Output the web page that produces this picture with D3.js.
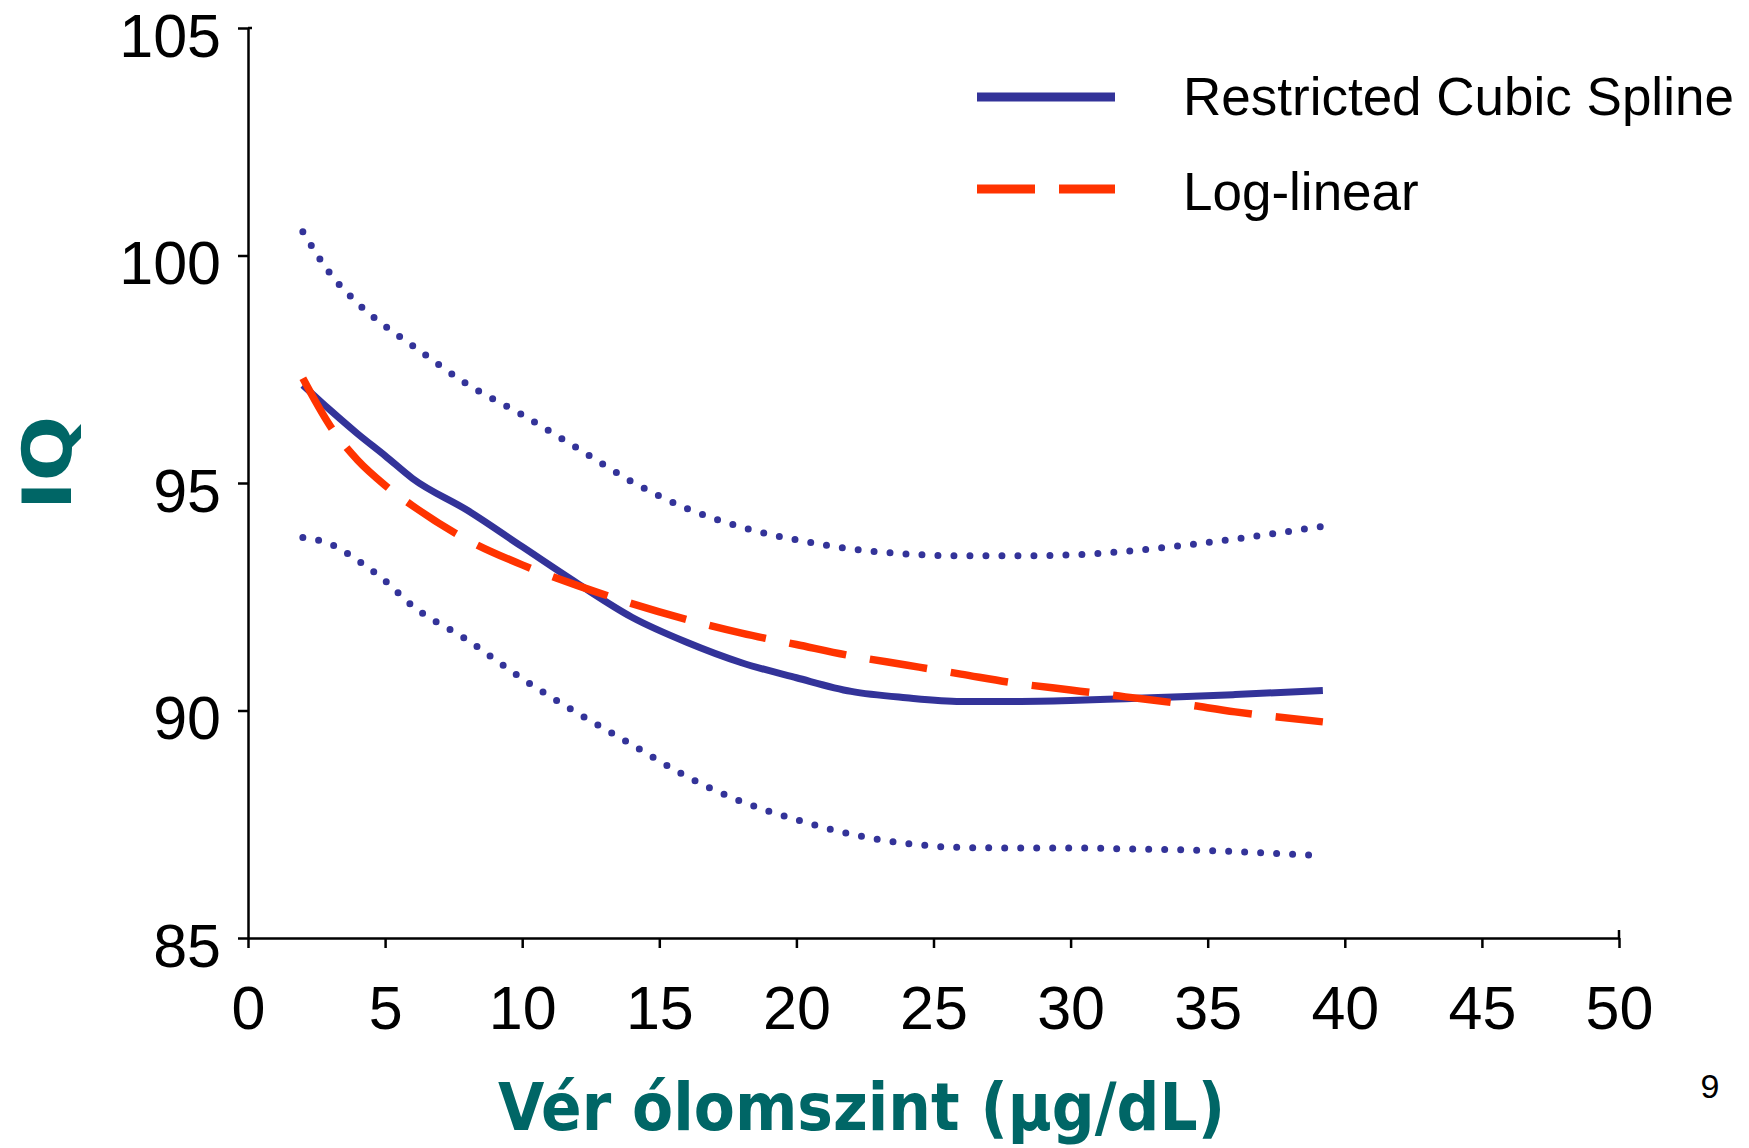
<!DOCTYPE html>
<html>
<head>
<meta charset="utf-8">
<script src="https://cdn.jsdelivr.net/npm/d3@7"></script>
<style>
  body { margin: 0; background: #fff; }
  svg { display: block; font-family: "Liberation Sans", Arial, sans-serif; }
</style>
</head>
<body>
<svg id="chart"></svg>
<script>
// 1: DATA
const leadLevels = [2, 3, 4, 5, 6, 8, 10, 12, 14, 16, 18, 20, 22, 24, 26, 28, 30, 32, 34, 36, 39.2];
const splineIQ = [97.15, 96.6, 96.08, 95.6, 95.1, 94.4, 93.6, 92.8, 92.05, 91.5, 91.05, 90.72, 90.42, 90.28, 90.2, 90.2, 90.22, 90.26, 90.3, 90.35, 90.44];
const logLinearIQ = [97.3, 96.25, 95.5, 94.95, 94.5, 93.75, 93.2, 92.75, 92.35, 92.0, 91.7, 91.45, 91.2, 91.0, 90.8, 90.6, 90.45, 90.3, 90.15, 89.97, 89.75];
const upperCI = [100.52, 99.6, 98.95, 98.45, 98.02, 97.17, 96.5, 95.77, 95.03, 94.44, 94.03, 93.75, 93.55, 93.44, 93.4, 93.4, 93.42, 93.5, 93.62, 93.77, 94.05];
const lowerLevels = [2, 3, 4, 5, 6, 8, 10, 12, 14, 16, 18, 20, 22, 24, 26, 28, 30, 32, 34, 36, 38.8];
const lowerCI = [93.8, 93.66, 93.3, 92.85, 92.3, 91.55, 90.7, 89.95, 89.25, 88.55, 88.0, 87.6, 87.28, 87.08, 86.99, 86.98, 86.98, 86.96, 86.94, 86.9, 86.82];

const xTicks = [0, 5, 10, 15, 20, 25, 30, 35, 40, 45, 50];
const yTicks = [85, 90, 95, 100, 105];
const legendLabels = ["Restricted Cubic Spline", "Log-linear"];

// 2: SIZES
const margin = { top: 28, right: 131, bottom: 210, left: 248 };
const width = 1371;
const height = 910;

const blue = "#333399";
const red = "#ff3300";
const teal = "#006666";

const svgRoot = d3.select("#chart")
    .attr("width", 1749)
    .attr("height", 1148);

const svg = svgRoot.append("g")
    .attr("transform", `translate(${margin.left},${margin.top})`);

// 3: SCALES
const xScale = d3.scaleLinear().domain([0, 50]).range([0, width]);
const yScale = d3.scaleLinear().domain([85, 105]).range([height, 0]);

// 4: AXES
const yAxis = svg.append("g")
    .call(d3.axisLeft(yScale).tickValues(yTicks).tickSize(10).tickSizeOuter(0).tickPadding(17));
yAxis.selectAll("text").attr("dy", "0.46em").style("font-size", "61px").attr("fill", "#000");

const xAxis = svg.append("g")
    .attr("transform", `translate(0,${height})`)
    .call(d3.axisBottom(xScale).tickValues(xTicks).tickSize(10).tickSizeOuter(0).tickPadding(38));
xAxis.selectAll("text").style("font-size", "61px").attr("fill", "#000");

[yAxis, xAxis].forEach(a => {
    a.select(".domain").attr("stroke", "#000").attr("stroke-width", 2.5);
    a.selectAll(".tick line").attr("stroke", "#000").attr("stroke-width", 2.5);
});

// small end caps crossing the axes
svg.append("line")
    .attr("x1", xScale(50)).attr("x2", xScale(50))
    .attr("y1", height - 8).attr("y2", height)
    .attr("stroke", "#000").attr("stroke-width", 2.5);
svg.append("line")
    .attr("x1", 0).attr("x2", 4)
    .attr("y1", yScale(105)).attr("y2", yScale(105))
    .attr("stroke", "#000").attr("stroke-width", 2.5);

// 5: LINES
const line = d3.line()
    .x(d => xScale(d[0]))
    .y(d => yScale(d[1]))
    .curve(d3.curveMonotoneX);

const pairs = (xs, ys) => xs.map((x, i) => [x, ys[i]]);

[upperCI, lowerCI].forEach((vals, k) => {
    svg.append("path")
        .datum(pairs(k === 0 ? leadLevels : lowerLevels, vals))
        .attr("fill", "none")
        .attr("stroke", blue)
        .attr("stroke-width", 7)
        .attr("stroke-linecap", "round")
        .attr("stroke-dasharray", "0 16")
        .attr("d", line);
});

svg.append("path")
    .datum(pairs(leadLevels, splineIQ))
    .attr("fill", "none")
    .attr("stroke", blue)
    .attr("stroke-width", 7)
    .attr("d", line);

svg.append("path")
    .datum(pairs(leadLevels, logLinearIQ))
    .attr("fill", "none")
    .attr("stroke", red)
    .attr("stroke-width", 7.5)
    .attr("stroke-dasharray", "58 24")
    .attr("d", line);

// 6: LEGEND
const legend = svgRoot.append("g");
const legendRows = [
    { y: 97, color: blue, dash: null, textY: 115 },
    { y: 189, color: red, dash: "58 24", textY: 210 }
];
legendRows.forEach((r, i) => {
    legend.append("line")
        .attr("x1", 977).attr("x2", 1115)
        .attr("y1", r.y).attr("y2", r.y)
        .attr("stroke", r.color)
        .attr("stroke-width", 9)
        .attr("stroke-dasharray", r.dash);
    legend.append("text")
        .attr("x", 1183)
        .attr("y", r.textY)
        .style("font-size", "53px")
        .text(legendLabels[i]);
});

// 7: AXIS TITLES
svgRoot.append("text")
    .attr("x", 498)
    .attr("y", 1130)
    .attr("textLength", 727)
    .attr("lengthAdjust", "spacingAndGlyphs")
    .attr("fill", teal)
    .style("font-family", "'DejaVu Sans', sans-serif")
    .style("font-weight", "bold")
    .style("font-size", "66px")
    .text("Vér ólomszint (μg/dL)");

svgRoot.append("text")
    .attr("transform", "translate(71,463) rotate(-90)")
    .attr("text-anchor", "middle")
    .attr("textLength", 94)
    .attr("lengthAdjust", "spacingAndGlyphs")
    .attr("fill", teal)
    .style("font-family", "'DejaVu Sans', sans-serif")
    .style("font-weight", "bold")
    .style("font-size", "68px")
    .text("IQ");

// page number
svgRoot.append("text")
    .attr("x", 1710)
    .attr("y", 1098)
    .attr("text-anchor", "middle")
    .style("font-size", "34px")
    .text("9");
</script>
</body>
</html>
